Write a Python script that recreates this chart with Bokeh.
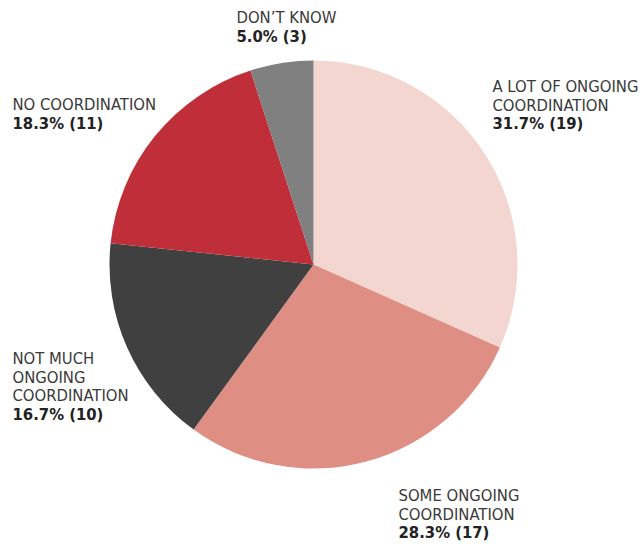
import numpy as np
from bokeh.plotting import figure
from bokeh.models import Range1d, ColumnDataSource
from bokeh.core.properties import value
from bokeh.embed import file_html
from bokeh.resources import INLINE

# ---- data ----
categories = ["A LOT OF ONGOING\nCOORDINATION", "SOME ONGOING\nCOORDINATION",
              "NOT MUCH\nONGOING\nCOORDINATION", "NO COORDINATION", "DON\u2019T KNOW"]
counts = [19, 17, 10, 11, 3]
colors = ["#f3d6cf", "#df8e83", "#404040", "#c02f39", "#808080"]

# ---- layout (pixel positions from top-left: left x, first baseline y) ----
label_pos = [(492, 86), (398, 495), (12, 358), (12, 104), (236, 17)]
line_h = 18.6
W, H = 644, 548
cx_img, cy_img, r = 313, 264, 204
FONT = value("'Liberation Sans Narrow', 'DejaVu Sans Condensed', 'Roboto Condensed', 'Arial Narrow', sans-serif")
FS = "16.5px"

def py(y):
    return H - y

total = sum(counts)
fr = np.array(counts) / total
cum = np.concatenate([[0], np.cumsum(fr)])
start = np.pi / 2 - cum[1:] * 2 * np.pi
end = np.pi / 2 - cum[:-1] * 2 * np.pi

p = figure(width=W, height=H, x_range=Range1d(0, W), y_range=Range1d(0, H),
           output_backend="svg", toolbar_location=None, min_border=0)
p.axis.visible = False
p.grid.visible = False
p.outline_line_color = None
p.background_fill_color = "white"
p.border_fill_color = "white"

src = ColumnDataSource(dict(x=[cx_img] * len(counts), y=[py(cy_img)] * len(counts),
                            start=start, end=end, color=colors))
p.wedge(x="x", y="y", radius=r, start_angle="start", end_angle="end",
        fill_color="color", line_color=None, source=src)

tx, ty, tt = [], [], []
bx, by, bt = [], [], []
for cat, c, (lx, ly) in zip(categories, counts, label_pos):
    lines = cat.split("\n")
    for i, ln in enumerate(lines):
        tx.append(lx); ty.append(py(ly + i * line_h)); tt.append(ln)
    bx.append(lx); by.append(py(ly + len(lines) * line_h))
    bt.append(f"{c / total * 100:.1f}% ({c})")

p.text(x=tx, y=ty, text=tt, text_font=FONT,
       text_font_size=FS, text_color="#3a3a3a", text_baseline="alphabetic",
       text_align="left")
p.text(x=bx, y=by, text=bt, text_font=FONT,
       text_font_size=FS, text_font_style="bold", text_color="#222222",
       text_baseline="alphabetic", text_align="left")

open("out.html", "w").write(file_html(p, INLINE))
